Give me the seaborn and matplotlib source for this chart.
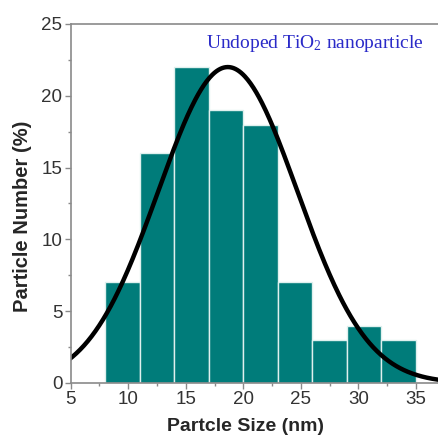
import numpy as np
import pandas as pd
import matplotlib
matplotlib.use("Agg")
import matplotlib.pyplot as plt
import seaborn as sns
from matplotlib.ticker import MultipleLocator

# Data
bin_edges = [8, 11, 14, 17, 20, 23, 26, 29, 32, 35]
bin_centers = [9.5, 12.5, 15.5, 18.5, 21.5, 24.5, 27.5, 30.5, 33.5]
percent = [7, 16, 22, 19, 18, 7, 3, 4, 3]

# Gaussian fit parameters
fit_mean = 18.65
fit_sd = 6.05
fit_amp = 22.0

sns.set_style("white")
plt.rcParams['font.family'] = ['Liberation Sans', 'DejaVu Sans']
plt.rcParams['mathtext.fontset'] = 'custom'
plt.rcParams['mathtext.rm'] = 'Liberation Serif'
plt.rcParams['mathtext.it'] = 'Liberation Serif:italic'
plt.rcParams['mathtext.bf'] = 'Liberation Serif:bold'

fig = plt.figure(figsize=(4.39, 4.36), dpi=100)
ax = fig.add_axes([0.161, 0.1216, 0.839, 0.8234])

df = pd.DataFrame({"size": bin_centers, "pct": percent})
sns.histplot(data=df, x="size", weights="pct", bins=bin_edges, ax=ax,
             color="#007C7A", alpha=1.0, edgecolor="#dff0ee", linewidth=1.0)

xs = np.linspace(4.5, 37.5, 400)
fit_df = pd.DataFrame({"x": xs, "y": fit_amp * np.exp(-(xs - fit_mean) ** 2 / (2 * fit_sd ** 2))})
sns.lineplot(data=fit_df, x="x", y="y", ax=ax, color="black", linewidth=3.2)

ax.set_xlim(5, 37)
ax.set_ylim(0, 25)
ax.xaxis.set_major_locator(MultipleLocator(5))
ax.xaxis.set_minor_locator(MultipleLocator(2.5))
ax.yaxis.set_major_locator(MultipleLocator(5))
ax.yaxis.set_minor_locator(MultipleLocator(2.5))

for s in ["left", "bottom", "top"]:
    ax.spines[s].set_color("#8a8a8a")
    ax.spines[s].set_linewidth(1.2)
ax.spines["right"].set_visible(False)

ax.tick_params(axis="both", which="major", direction="out", length=4, width=1,
               color="#8a8a8a", labelsize=13.5, labelcolor="#333333", pad=2,
               bottom=True, left=True)
ax.tick_params(axis="both", which="minor", direction="out", length=2.5, width=1,
               color="#8a8a8a", bottom=True, left=True)

ax.set_xlabel("Partcle Size (nm)", fontsize=14, fontweight="bold")
ax.set_ylabel("Particle Number (%)", fontsize=14.5, fontweight="bold")
ax.xaxis.set_label_coords(0.476, -0.098)
ax.yaxis.set_label_coords(-0.104, 0.465)

ax.text(0.959, 0.933, r"Undoped TiO$_\mathrm{2}$ nanoparticle", transform=ax.transAxes,
        ha="right", va="baseline", fontsize=14, color="#2a2ac8",
        family="Liberation Serif")

fig.savefig("out.png", dpi=100)
